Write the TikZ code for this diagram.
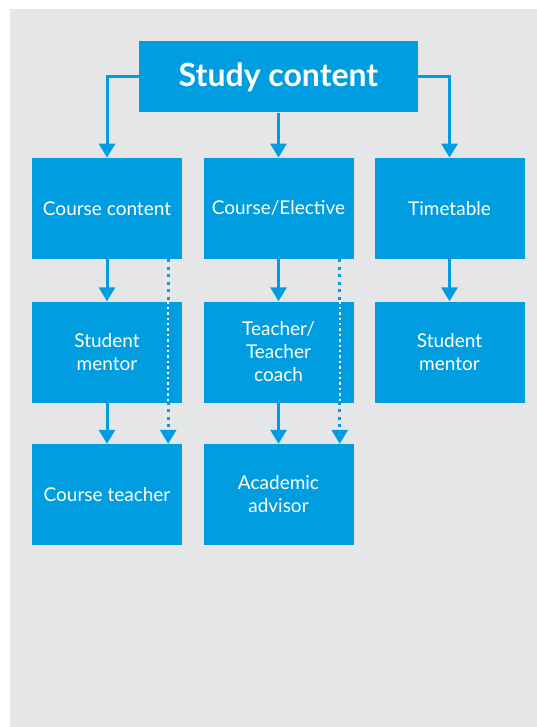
\documentclass[tikz,border=0pt]{standalone}
\usepackage{fontspec}
\setmainfont{Lato}
\usetikzlibrary{arrows.meta}
\definecolor{boxblue}{RGB}{0,158,224}
\definecolor{page}{RGB}{229,230,232}
\tikzset{
  card/.style={fill=boxblue, text=white, minimum width=150pt, minimum height=101pt, inner sep=0pt, align=center, font=\fontsize{19}{23}\selectfont},
  link/.style={draw=boxblue, line width=3pt, -{Triangle[width=16pt,length=14pt]}},
  dotlink/.style={link, dash pattern=on 3pt off 4.5pt},
  dotwhite/.style={draw=white, line width=2.4pt, dash pattern=on 2.4pt off 3pt}
}

\begin{document}
\begin{tikzpicture}[x=1pt, y=-1pt]
\useasboundingbox (0,0) rectangle (537,727);
\fill[page] (10,9) rectangle (537,727);
\node[card, minimum width=279pt, minimum height=71pt, font=\bfseries\fontsize{32}{34}\selectfont] (study) at (278.5,77.0) {Study content};
\node[card] (course) at (107.0,208.3) {Course content};
\node[card] (elective) at (278.5,208.3) {Course/Elective};
\node[card] (timetable) at (449.5,208.3) {Timetable};
\node[card] (mentorA) at (107.0,352.0) {Student\\mentor};
\node[card] (teacher) at (278.5,352.0) {Teacher/\\Teacher\\coach};
\node[card] (mentorB) at (449.5,352.0) {Student\\mentor};
\node[card] (courseteacher) at (107.0,494.5) {Course teacher};
\node[card] (advisor) at (278.5,494.5) {Academic\\advisor};
\draw[link] (study.west) -| (course.north);
\draw[link] (study.south) -- (elective.north);
\draw[link] (study.east) -| (timetable.north);
\draw[link] (course) -- (mentorA);
\draw[link] (mentorA) -- (courseteacher);
\draw[link] (elective) -- (teacher);
\draw[link] (teacher) -- (advisor);
\draw[link] (timetable) -- (mentorB);
% dotted links run through the middle boxes
\draw[dotlink] ([xshift=-14pt]course.south east) -- ([xshift=-14pt]courseteacher.north east);
\draw[dotlink] ([xshift=-14pt]elective.south east) -- ([xshift=-14pt]advisor.north east);
\draw[dotwhite] ([xshift=-14pt]mentorA.north east) -- ([xshift=-14pt]mentorA.south east);
\draw[dotwhite] ([xshift=-14pt]teacher.north east) -- ([xshift=-14pt]teacher.south east);
\end{tikzpicture}
\end{document}
